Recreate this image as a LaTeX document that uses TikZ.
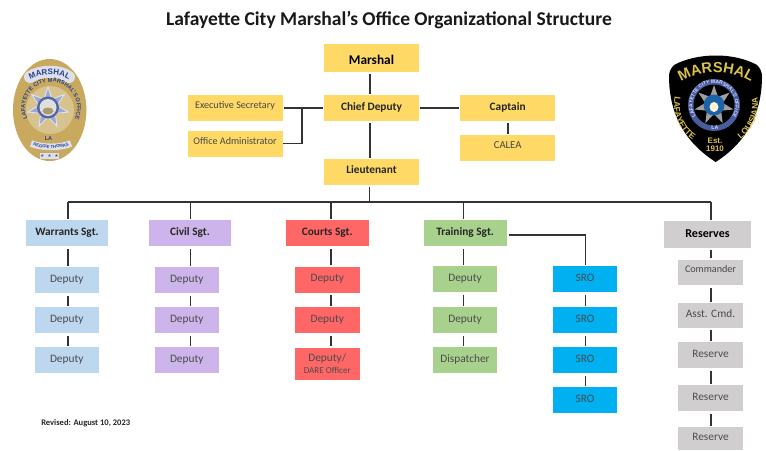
\documentclass[tikz,border=0pt]{standalone}
\usepackage{fontspec}
\setmainfont{Carlito}
\newfontfamily\badgefont{Liberation Sans}
\usetikzlibrary{shapes.geometric,decorations.text}
\definecolor{gold}{HTML}{FFD966}
\definecolor{skyb}{HTML}{BDD7EE}
\definecolor{lilac}{HTML}{CDB4EA}
\definecolor{coral}{HTML}{FF6666}
\definecolor{leaf}{HTML}{A9D18E}
\definecolor{sro}{HTML}{00B0F0}
\definecolor{ash}{HTML}{D0CECE}
\definecolor{ink}{HTML}{333333}
\definecolor{medal}{HTML}{C8A95E}
\definecolor{navy}{HTML}{27408B}
\definecolor{banner}{HTML}{DDE0EC}
\definecolor{patchgold}{HTML}{D9C14A}
\tikzset{
  conn/.style={draw=ink,line width=1.05pt},
  cbox/.style={inner sep=0pt,outer sep=0pt,align=center},
  big/.style={font=\fontsize{10}{12}\selectfont\bfseries,text=black,text height=9.8pt,text depth=0pt},
  sgt/.style={font=\fontsize{8.5}{10}\selectfont\bfseries,text=black!85,text height=6pt,text depth=2.4pt},
  reg/.style={font=\fontsize{8.5}{10}\selectfont,text=black!70,text height=6pt,text depth=2.8pt},
  small/.style={font=\fontsize{7.6}{9}\selectfont,text=black!72,text height=4pt,text depth=3.2pt},
  arctext/.style={decorate,decoration={text along path,text align=center,text={#1}}}
}
\newcommand{\bx}[7]{%
  \pgfmathsetmacro{\bw}{(#4-#2)*0.75}\pgfmathsetmacro{\bh}{(#5-#3)*0.75}%
  \node[cbox,#6,minimum width=\bw pt,minimum height=\bh pt] (#1) at ({(#2+#4)/2},{(#3+#5)/2}) {#7};}
\begin{document}
\begin{tikzpicture}[x=0.75pt,y=-0.75pt]
\useasboundingbox (0,0) rectangle (766,450);
\fill[white] (0,0) rectangle (766,450);
\node[font=\fontsize{14.65}{18}\selectfont\bfseries,text=black!90,inner sep=0pt] (title) at (389,20.5) {Lafayette City Marshal’s Office Organizational Structure};
% boxes
\bx{marshal}{324}{43.5}{419}{71.5}{fill=gold,big}{Marshal}
\bx{chief}{324}{95}{419}{120.5}{fill=gold,sgt}{Chief Deputy}
\bx{exec}{187.5}{95}{282.5}{120.5}{fill=gold,small}{Executive Secretary}
\bx{admin}{187.5}{131}{282.5}{157}{fill=gold,small}{Office Administrator}
\bx{capt}{460.3}{95}{555}{120.5}{fill=gold,sgt}{Captain}
\bx{calea}{460.3}{135}{555}{161}{fill=gold,small,font=\fontsize{8}{9}\selectfont}{CALEA}
\bx{lieut}{324}{159}{419}{185}{fill=gold,sgt,text depth=3.4pt}{Lieutenant}
\bx{warr}{26}{220}{108}{246}{fill=skyb,sgt}{Warrants Sgt.}
\bx{civil}{149}{220}{231}{246}{fill=lilac,sgt}{Civil Sgt.}
\bx{court}{286}{220}{368.5}{246}{fill=coral,sgt}{Courts Sgt.}
\bx{train}{423.7}{220}{506.5}{246}{fill=leaf,sgt}{Training Sgt.}
\bx{resv}{664}{221}{751}{247.5}{fill=ash,big,font=\fontsize{9}{11}\selectfont\bfseries,text height=6pt,text depth=1.2pt}{Reserves}
\bx{w1}{34.5}{267}{99}{293}{fill=skyb,reg}{Deputy}
\bx{w2}{34.5}{307}{99}{333}{fill=skyb,reg}{Deputy}
\bx{w3}{34.5}{347}{99}{373}{fill=skyb,reg}{Deputy}
\bx{c1}{154.5}{267}{219}{293}{fill=lilac,reg}{Deputy}
\bx{c2}{154.5}{307}{219}{333}{fill=lilac,reg}{Deputy}
\bx{c3}{154.5}{347}{219}{373}{fill=lilac,reg}{Deputy}
\bx{k1}{295}{266.5}{359.5}{292.5}{fill=coral,reg}{Deputy}
\bx{k2}{295}{307}{359.5}{333}{fill=coral,reg}{Deputy}
\bx{k3}{295}{347.5}{359.5}{380}{fill=coral,font=\fontsize{8.5}{10}\selectfont,text=black!70}{Deputy/\\[-1.5pt]{\fontsize{6.8}{8}\selectfont DARE Officer}}
\bx{t1}{432.7}{266}{497.3}{292}{fill=leaf,reg}{Deputy}
\bx{t2}{432.7}{307}{497.3}{333}{fill=leaf,reg}{Deputy}
\bx{t3}{432.7}{347}{497.3}{373}{fill=leaf,reg}{Dispatcher}
\bx{s1}{552.7}{266}{617.3}{292}{fill=sro,reg}{SRO}
\bx{s2}{552.7}{307}{617.3}{333}{fill=sro,reg}{SRO}
\bx{s3}{552.7}{347}{617.3}{373}{fill=sro,reg}{SRO}
\bx{s4}{552.7}{387}{617.3}{413}{fill=sro,reg}{SRO}
\bx{r1}{678}{259.5}{743}{285}{fill=ash,small}{Commander}
\bx{r2}{678}{303}{743}{327.5}{fill=ash,reg}{Asst. Cmd.}
\bx{r3}{678}{342}{743}{368}{fill=ash,reg}{Reserve}
\bx{r4}{678}{385}{743}{411}{fill=ash,reg}{Reserve}
\bx{r5}{678}{427}{743}{450}{fill=ash,reg}{Reserve}
\node[font=\fontsize{6.4}{8}\selectfont\bfseries,text=black!85,anchor=west,inner sep=0pt] (rev) at (41,423) {Revised: August 10, 2023};
% connector positions
\coordinate (top) at (370,74.5);
\coordinate (busL) at (68,202);
\coordinate (busC) at (190.5,202);
\coordinate (busK) at (331,202);
\coordinate (busM) at (369.5,202);
\coordinate (busT) at (463.5,202);
\coordinate (busR) at (711,202);
\coordinate (colS) at (585.5,202);
\coordinate (branch) at (302,108);
\coordinate (capx) at (508,120);
\coordinate (adminy) at (290,143.5);
\coordinate (trainy) at (500,235);
\tikzset{gap/.style={conn,shorten <=#1,shorten >=0.8pt},gap/.default=2.2pt}
% upper
\draw[gap] (marshal.south -| top) -- (chief.north -| top);
\draw[gap] (chief.south -| top) -- (lieut.north -| top);
\draw[gap=1.6pt] (lieut.south -| busM) -- (busM);
\draw[gap=0.7pt] (chief.west |- branch) -- (exec.east |- branch);
\draw[gap=0.7pt] (chief.east |- branch) -- (capt.west |- branch);
\draw[conn,shorten >=0.7pt] (branch) -- (branch |- adminy) -- (admin.east |- adminy);
\draw[gap] (capt.south -| capx) -- (calea.north -| capx);
% bus
\draw[conn,line cap=square] (busL) -- (busR);
\draw[gap=0pt] (busL) -- (warr.north -| busL);
\draw[gap=0pt] (busC) -- (civil.north -| busC);
\draw[gap=0pt] (busK) -- (court.north -| busK);
\draw[gap=0pt] (busT) -- (train.north -| busT);
\draw[gap=0pt] (busR) -- (resv.north -| busR);
% columns
\draw[gap] (warr.south -| busL) -- (w1.north -| busL);
\draw[gap] (w1.south -| busL) -- (w2.north -| busL);
\draw[gap] (w2.south -| busL) -- (w3.north -| busL);
\draw[gap] (civil.south -| busC) -- (c1.north -| busC);
\draw[gap] (c1.south -| busC) -- (c2.north -| busC);
\draw[gap] (c2.south -| busC) -- (c3.north -| busC);
\draw[gap] (court.south -| busK) -- (k1.north -| busK);
\draw[gap] (k1.south -| busK) -- (k2.north -| busK);
\draw[gap] (k2.south -| busK) -- (k3.north -| busK);
\draw[gap] (train.south -| busT) -- (t1.north -| busT);
\draw[gap] (t1.south -| busT) -- (t2.north -| busT);
\draw[gap] (t2.south -| busT) -- (t3.north -| busT);
\draw[conn,shorten <=1.6pt,shorten >=0.8pt] (train.east |- trainy) -- (trainy -| colS) -- (s1.north -| colS);
\draw[gap] (s1.south -| colS) -- (s2.north -| colS);
\draw[gap] (s2.south -| colS) -- (s3.north -| colS);
\draw[gap] (s3.south -| colS) -- (s4.north -| colS);
\draw[gap] (resv.south -| busR) -- (r1.north -| busR);
\draw[gap] (r1.south -| busR) -- (r2.north -| busR);
\draw[gap] (r2.south -| busR) -- (r3.north -| busR);
\draw[gap] (r3.south -| busR) -- (r4.north -| busR);
\draw[gap] (r4.south -| busR) -- (r5.north -| busR);
% left badge
\fill[medal] (49.7,110) ellipse[x radius=36.7,y radius=51];
\draw[line width=9pt,color=banner,line cap=round] (30,77) .. controls (40,70) and (60,70) .. (69,77);
\path[arctext={|\fontsize{6}{6}\badgefont\bfseries\color{navy}|MARSHAL}] (29,80) .. controls (40,73) and (60,73) .. (70,80);
\fill[medal!70!white] (50,110) circle[radius=24];
\path[arctext={|\fontsize{4.2}{4}\badgefont\bfseries\color{navy}|LAFAYETTE CITY MARSHAL'S OFFICE}] (51,108) ++(140:26) arc[start angle=140,end angle=400,radius=26];
\node[star,star points=7,star point ratio=2.2,minimum size=31pt,inner sep=0pt,fill=navy!45!white,draw=white!85!navy,line width=0.7pt] (lstar) at (48,107.5) {};
\fill[navy!80!white] (48,107.5) circle[radius=11];
\fill[white!75!gray] (48,107.5) circle[radius=8.5];
\fill[medal!60!gray] (48,111) ellipse[x radius=5.5,y radius=3.5];
\node[font=\fontsize{4.2}{4}\badgefont\bfseries,text=navy,inner sep=0pt] (lla) at (48.5,139) {LA};
\draw[line width=5pt,color=banner] (31,143.5) .. controls (42,148) and (60,148) .. (71,143.5);
\path[arctext={|\fontsize{3.2}{4}\badgefont\bfseries\color{navy}|REGGIE THOMAS}] (31,144.8) .. controls (42,149.3) and (60,149.3) .. (71,144.8);
\fill[banner] (40,152.5) rectangle (59,158.5);
\node[font=\fontsize{4.5}{4}\badgefont\bfseries,text=navy,inner sep=0pt] (lstars) at (49.5,155.5) {$\star\star\star$};
% right badge
\fill[black] (716,55.5) .. controls (700,55.5) and (685,59) .. (674,65) .. controls (671,68) and (669,72) .. (669,76)
  .. controls (669,105) and (678,138) .. (715.7,162) .. controls (753,138) and (762,105) .. (762,76)
  .. controls (762,72) and (760,68) .. (757,65) .. controls (746,59) and (732,55.5) .. (716,55.5) -- cycle;
\path[arctext={|\fontsize{11}{11}\badgefont\bfseries\color{patchgold}|MARSHAL}] (716,140) ++(213:67.5) arc[start angle=213,end angle=327,radius=67.5];
\path[arctext={|\fontsize{6.4}{6}\badgefont\bfseries\color{patchgold}|LAFAYETTE}] (716,105) ++(197:42) arc[start angle=197,end angle=119,radius=42];
\path[arctext={|\fontsize{6.4}{6}\badgefont\bfseries\color{patchgold}|LOUISIANA}] (716,105) ++(61:42) arc[start angle=61,end angle=-17,radius=42];
\fill[navy!85!white] (714,105) circle[radius=26];
\path[arctext={|\fontsize{3.7}{4}\badgefont\bfseries\color{white!85!blue}|LAFAYETTE CITY MARSHAL'S OFFICE}] (714,105) ++(130:21.5) arc[start angle=130,end angle=410,radius=21.5];
\fill[black] (714,105) circle[radius=20.5];
\node[star,star points=7,star point ratio=2.2,minimum size=30pt,inner sep=0pt,fill=gray!75] (rstar) at (714,105) {};
\fill[navy!70!sro] (714,105) circle[radius=10.5];
\fill[white!70!gold] (714,107) ellipse[x radius=4.5,y radius=5];
\node[font=\fontsize{4}{4}\badgefont\bfseries,text=white!85!blue,inner sep=0pt] (rla) at (715,128) {LA};
\node[font=\fontsize{6}{6}\badgefont\bfseries,text=patchgold,inner sep=0pt] (rest) at (715,141) {Est.};
\node[font=\fontsize{6}{6}\badgefont\bfseries,text=patchgold,inner sep=0pt] (ryr) at (715,149) {1910};
\end{tikzpicture}
\end{document}
